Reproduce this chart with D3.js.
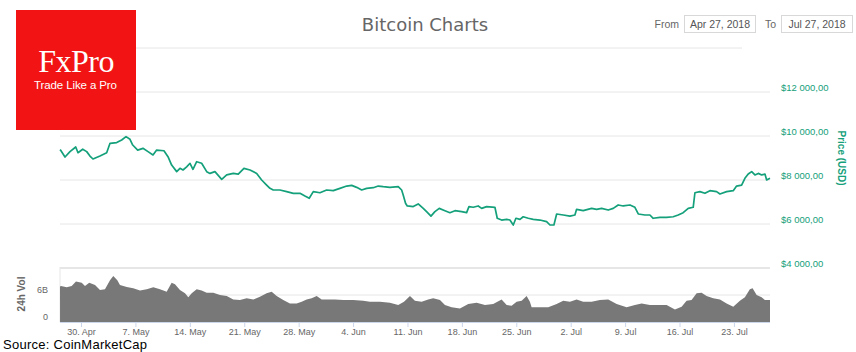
<!DOCTYPE html>
<html>
<head>
<meta charset="utf-8">
<script src="https://cdn.jsdelivr.net/npm/d3@7"></script>
<style>
  body { margin: 0; background: #fff; }
  svg { display: block; }
</style>
</head>
<body>
<svg id="chart"></svg>
<script>
// day offsets from Apr 27, 2018 and the values
let priceDay = [0.3, 0.42, 0.94, 1.58, 2.32, 2.61, 3.22, 3.73, 4.15, 4.54, 5.44, 6.30, 6.73, 7.59, 8.23, 8.79, 9.30, 9.65,
  10.29, 10.97, 11.62, 12.26, 12.73, 13.67, 14.19, 14.66, 15.31, 15.73, 16.12, 16.59, 17.02, 17.40, 17.88, 18.52, 19.17,
  19.59, 20.23, 21.10, 21.74, 22.59, 23.23, 23.96, 24.74, 25.60, 26.24, 26.88, 27.31, 27.73, 28.59, 29.46, 30.31, 31.17,
  31.81, 32.36, 32.88, 33.74, 34.60, 35.45, 36.31, 37.18, 37.82, 38.46, 39.11, 39.75, 40.60, 41.24, 41.88, 42.74, 43.81,
  44.25, 44.45, 44.75, 44.97, 45.74, 46.38, 47.03, 47.46, 48.02, 48.53, 49.09, 49.82, 50.46, 51.11, 51.97, 52.61, 52.91,
  53.46, 54.10, 54.54, 55.18, 56.25, 56.55, 57.11, 57.76, 58.18, 58.61, 58.95, 59.47, 59.89, 60.54, 61.18, 62.04, 62.90,
  63.33, 63.84, 64.19, 65.04, 65.90, 66.54, 66.76, 67.61, 68.69, 69.33, 69.98, 70.83, 71.47, 72.11, 72.76, 73.62, 74.26,
  74.69, 75.55, 76.19, 76.61, 77.48, 78.34, 79.19, 79.83, 80.47, 81.12, 81.76, 81.98, 82.62, 83.27, 83.91, 84.77, 85.20,
  86.06, 86.91, 87.34, 87.99, 88.41, 88.84, 89.28, 89.70, 90.13, 90.57, 90.99, 91.21, 91.64];
let priceUsd = [9380, 9333, 9045, 9290, 9500, 9240, 9400, 9290, 9090, 8955, 9090, 9240, 9667, 9700, 9820, 9970, 9850, 9590,
  9360, 9440, 9290, 9140, 9360, 9330, 9060, 8680, 8380, 8530, 8455, 8600, 8760, 8485, 8830, 8760, 8380,
  8300, 8380, 8030, 8230, 8300, 8270, 8530, 8455, 8300, 8000, 7770, 7620, 7545, 7545, 7470, 7395, 7395,
  7270, 7170, 7470, 7420, 7545, 7515, 7620, 7725, 7755, 7665, 7545, 7620, 7650, 7725, 7695, 7665, 7695,
  7545, 7320, 6940, 6820, 6790, 6910, 6710, 6560, 6360, 6560, 6710, 6605, 6515, 6605, 6560, 6515, 6790,
  6760, 6820, 6710, 6790, 6760, 6260, 6180, 6210, 6180, 5955, 6260, 6210, 6330, 6260, 6210, 6180, 6105,
  5955, 5955, 6455, 6410, 6360, 6410, 6665, 6605, 6710, 6665, 6710, 6635, 6710, 6865, 6820, 6865, 6760,
  6455, 6410, 6410, 6260, 6305, 6305, 6330, 6410, 6515, 6710, 6760, 7420, 7470, 7395, 7515, 7470, 7365,
  7470, 7515, 7725, 7770, 8075, 8270, 8380, 8230, 8300, 8230, 8270, 8000, 8075];

let volDay = [0.3, 0.42, 1.16, 1.80, 2.35, 3.09, 3.51, 4.06, 4.80, 5.44, 6.08, 6.73, 7.15, 7.67, 8.01, 8.88, 9.72, 10.59,
  11.45, 12.30, 13.16, 14.02, 14.66, 15.09, 15.73, 16.38, 16.80, 17.24, 17.88, 18.52, 19.17, 20.02, 20.88, 21.74, 22.59,
  23.45, 24.31, 25.16, 26.02, 26.88, 27.53, 28.17, 29.02, 29.88, 30.74, 31.39, 32.03, 32.67, 33.32, 33.96, 34.81, 35.67,
  36.74, 38.02, 39.31, 40.17, 41.46, 42.74, 43.81, 44.55, 45.32, 45.96, 46.82, 47.67, 48.31, 49.18, 49.82, 50.68, 51.75,
  52.82, 53.90, 54.97, 56.03, 57.11, 57.76, 58.40, 59.04, 59.69, 60.33, 60.75, 60.97, 62.04, 63.11, 64.19, 65.04, 65.90,
  66.76, 67.61, 68.69, 69.76, 70.83, 71.91, 73.19, 74.26, 75.12, 76.19, 77.26, 78.34, 79.41, 80.27, 80.91, 81.55, 82.20,
  82.84, 83.48, 84.33, 85.20, 86.06, 86.91, 87.77, 88.41, 89.05, 89.40, 89.92, 90.56, 90.98, 91.64];
// billions of USD
let volB = [7.9, 8.0, 7.7, 8.0, 9.0, 8.7, 8.0, 8.7, 8.2, 7.1, 7.3, 9.3, 10.2, 9.3, 8.2, 7.8, 7.5, 7.0,
  7.3, 7.7, 7.3, 6.7, 8.7, 8.4, 7.1, 6.4, 5.5, 6.4, 7.3, 7.0, 6.5, 6.5, 6.0, 5.8, 5.0,
  4.9, 5.3, 5.0, 5.6, 6.4, 6.7, 5.8, 4.9, 4.1, 4.1, 4.5, 5.0, 5.3, 5.8, 5.0, 5.0, 5.0,
  4.9, 4.9, 4.7, 4.5, 4.5, 4.3, 3.8, 4.5, 5.8, 4.7, 4.5, 5.0, 5.3, 4.9, 3.8, 3.3, 3.0,
  4.0, 4.3, 3.8, 4.0, 5.0, 3.8, 3.6, 4.5, 4.7, 5.8, 4.5, 3.3, 3.3, 3.3, 4.0, 4.7, 4.5,
  5.0, 4.5, 4.5, 4.9, 5.0, 4.0, 3.3, 3.8, 4.1, 3.8, 3.8, 3.8, 2.8, 3.4, 4.7, 4.9, 6.4,
  6.5, 5.8, 5.3, 5.0, 4.1, 3.4, 4.7, 5.5, 7.3, 7.5, 6.0, 5.5, 4.9, 4.9];

let priceTicks = [4000, 6000, 8000, 10000, 12000];
let volTicks = [0, 6];
let fromLabel = "Apr 27, 2018";
let toLabel = "Jul 27, 2018";

let width = 856;
let height = 352;
let svg = d3.select("#chart").attr("width", width).attr("height", height);

let start = new Date(2018, 3, 27);
let toDate = d => new Date(start.getTime() + d * 864e5);

let x = d3.scaleTime()
  .domain([start, toDate(91.64)])
  .range([57.7, 770]);
let yPrice = d3.scaleLinear().domain([4000, 14000]).range([268, 48]);
let yVol = d3.scaleLinear().domain([0, 12]).range([322, 268]);

let green = "#14a07a";
let font = "'Liberation Sans', Arial, sans-serif";

// header line and price grid
svg.append("line")
  .attr("x1", 60).attr("x2", 742)
  .attr("y1", yPrice(14000)).attr("y2", yPrice(14000))
  .attr("stroke", "#e6e6e6");
svg.append("g").selectAll("line")
  .data(priceTicks)
  .join("line")
  .attr("x1", 60).attr("x2", 770)
  .attr("y1", d => yPrice(d)).attr("y2", d => yPrice(d))
  .attr("stroke", "#e6e6e6")
  .attr("stroke-width", d => d == 4000 ? 2 : 1);

svg.append("g").selectAll("text")
  .data(priceTicks)
  .join("text")
  .attr("x", 781)
  .attr("y", d => yPrice(d) - 1.5)
  .attr("fill", green)
  .style("font", "9.5px " + font)
  .text(d => "$" + d3.format(",")(d).replace(",", " ") + ",00");

svg.append("text")
  .attr("transform", "translate(838," + 158 + ") rotate(90)")
  .attr("text-anchor", "middle")
  .attr("fill", green)
  .style("font", "bold 10px " + font)
  .text("Price (USD)");

// price line
let line = d3.line()
  .x((d, i) => x(toDate(priceDay[i])))
  .y(d => yPrice(d));
svg.append("path")
  .attr("d", line(priceUsd))
  .attr("fill", "none")
  .attr("stroke", green)
  .attr("stroke-width", 1.7)
  .attr("stroke-linejoin", "round");

// volume pane
svg.append("line")
  .attr("x1", 60).attr("x2", 60).attr("y1", 267).attr("y2", 322)
  .attr("stroke", "#e6e6e6");
svg.append("g").selectAll("line")
  .data(volTicks.filter(d => d > 0))
  .join("line")
  .attr("x1", 60).attr("x2", 770)
  .attr("y1", d => yVol(d)).attr("y2", d => yVol(d))
  .attr("stroke", "#e6e6e6");

let area = d3.area()
  .x((d, i) => x(toDate(volDay[i])))
  .y0(yVol(0))
  .y1(d => yVol(d));
svg.append("path")
  .attr("d", area(volB))
  .attr("fill", "#787878");

svg.append("g").selectAll("text")
  .data(volTicks)
  .join("text")
  .attr("x", 48)
  .attr("y", d => yVol(d) - 2.5)
  .attr("text-anchor", "end")
  .attr("fill", "#666")
  .style("font", "9px " + font)
  .text(d => d == 0 ? "0" : d + "B");

svg.append("text")
  .attr("transform", "translate(25,294) rotate(-90)")
  .attr("text-anchor", "middle")
  .attr("fill", "#666")
  .style("font", "bold 10px " + font)
  .text("24h Vol");

// x axis
let xAxis = svg.append("g")
  .attr("transform", "translate(0,322)")
  .call(d3.axisBottom(x)
    .ticks(d3.timeMonday.every(1))
    .tickSize(5)
    .tickFormat(d3.timeFormat("%-d. %b")));
xAxis.select(".domain").attr("stroke", "#ccd6eb").attr("d", "M60,0.5H770");
xAxis.selectAll(".tick line").attr("stroke", "#ccd6eb");
xAxis.selectAll(".tick text")
  .attr("fill", "#666")
  .attr("y", 12.5)
  .attr("dy", null)
  .style("font", "9px " + font);

// title and date range
svg.append("text")
  .attr("x", 425).attr("y", 31)
  .attr("text-anchor", "middle")
  .attr("fill", "#666")
  .style("font", "18px 'DejaVu Sans', sans-serif")
  .text("Bitcoin Charts");

let boxes = [
  { label: "From", text: fromLabel, lx: 679, bx: 684 },
  { label: "To", text: toLabel, lx: 776, bx: 781 }
];
let hdr = svg.append("g").selectAll("g").data(boxes).join("g");
hdr.append("text")
  .attr("x", d => d.lx).attr("y", 27.5)
  .attr("text-anchor", "end")
  .attr("fill", "#666")
  .style("font", "10.5px " + font)
  .text(d => d.label);
hdr.append("rect")
  .attr("x", d => d.bx + 0.5).attr("y", 15.5)
  .attr("width", 71).attr("height", 17)
  .attr("fill", "#fff")
  .attr("stroke", "#d8d8d8");
hdr.append("text")
  .attr("x", d => d.bx + 36).attr("y", 27.5)
  .attr("text-anchor", "middle")
  .attr("fill", "#555")
  .style("font", "10.5px " + font)
  .text(d => d.text);

// logo
let logo = svg.append("g");
logo.append("rect")
  .attr("x", 16).attr("y", 10)
  .attr("width", 120).attr("height", 120)
  .attr("fill", "#f21414");
logo.append("text")
  .attr("x", 76).attr("y", 72)
  .attr("text-anchor", "middle")
  .attr("fill", "#fff")
  .style("font", "32px 'Liberation Serif', 'DejaVu Serif', serif")
  .attr("letter-spacing", "-0.5")
  .text("FxPro");
logo.append("text")
  .attr("x", 34).attr("y", 89)
  .attr("fill", "#fff")
  .attr("textLength", 83)
  .style("font", "11.5px " + font)
  .text("Trade Like a Pro");

svg.append("text")
  .attr("x", 3).attr("y", 348.5)
  .attr("fill", "#000")
  .style("font", "13px " + font)
  .attr("textLength", 144)
  .text("Source: CoinMarketCap");
</script>
</body>
</html>
